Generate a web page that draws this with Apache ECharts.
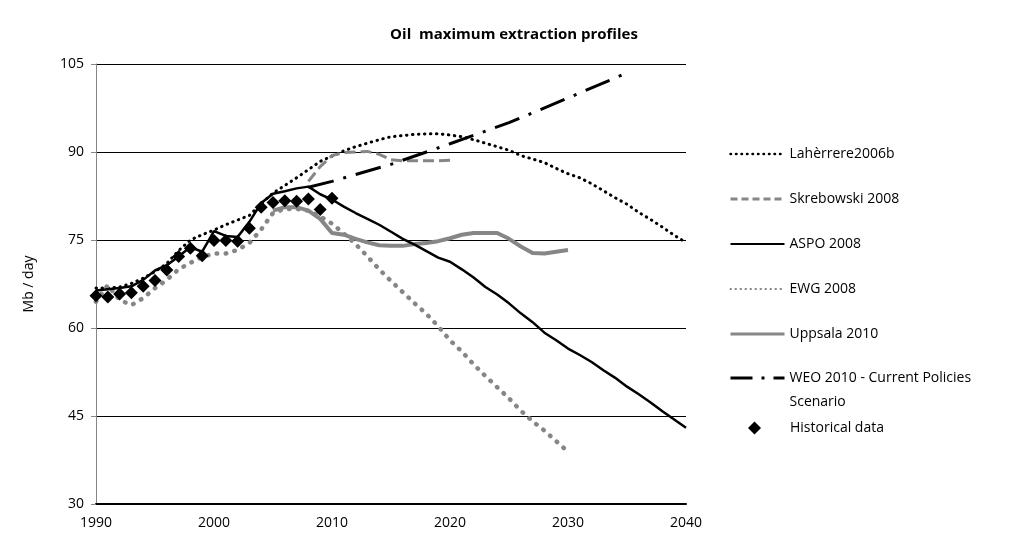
<!DOCTYPE html>
<html><head><meta charset="utf-8">
<script src="https://cdn.jsdelivr.net/npm/echarts@6/dist/echarts.min.js"></script>
<style>html,body{margin:0;padding:0;background:#fff}#c{width:1011px;height:546px}</style>
</head><body><div id="c"></div>
<script>
// ---- data (Mb/day) ----
const years = [1990,1991,1992,1993,1994,1995,1996,1997,1998,1999,
  2000,2001,2002,2003,2004,2005,2006,2007,2008,2009,
  2010,2011,2012,2013,2014,2015,2016,2017,2018,2019,
  2020,2021,2022,2023,2024,2025,2026,2027,2028,2029,
  2030,2031,2032,2033,2034,2035,2036,2037,2038,2039,2040];
const xTicks = [1990, 2000, 2010, 2020, 2030, 2040];
const yTicks = [30, 45, 60, 75, 90, 105];

const laherrereStart = 1990;
const laherrere = [66.8,66.8,67.0,67.6,68.5,69.6,71.0,73.2,75.0,75.9,
  76.7,77.6,78.4,79.2,81.2,83.0,84.3,85.6,87.0,88.4,
  89.3,90.2,90.9,91.5,92.1,92.6,92.8,93.0,93.1,93.1,
  92.9,92.6,92.1,91.5,90.9,90.3,89.4,88.8,88.2,87.2,
  86.3,85.6,84.6,83.4,82.2,81.1,79.7,78.5,77.2,75.8,74.6];

const skrebowskiStart = 2008;
const skrebowski = [85.0,87.5,89.4,89.9,90.0,90.1,89.6,88.7,88.5,88.5,88.5,88.5,88.6];

const aspoStart = 1990;
const aspo = [66.4,66.6,66.8,67.1,68.2,69.8,70.7,72.2,73.8,73.0,
  76.5,75.7,75.5,78.1,81.3,82.9,83.3,83.8,84.1,82.8,
  81.9,80.7,79.6,78.6,77.6,76.4,75.2,74.2,73.1,72.0,
  71.3,70.0,68.6,67.0,65.7,64.2,62.5,61.0,59.2,57.9,
  56.5,55.4,54.2,52.8,51.5,50.0,48.7,47.3,45.8,44.4,43.0];

const ewgStart = 1990;
const ewg = [64.5,67.3,64.8,63.9,65.1,66.8,68.2,70.0,71.1,72.1,
  72.7,72.7,73.3,74.5,76.8,79.6,80.3,80.3,80.0,79.0,
  77.8,76.1,74.3,72.2,70.0,68.0,66.1,64.2,62.4,60.3,
  57.9,56.0,53.8,51.8,49.9,48.0,45.9,44.1,42.5,40.7,38.9];

const uppsalaStart = 2005;
const uppsala = [80.0,80.6,80.6,80.0,78.6,76.2,75.9,75.2,74.6,74.1,
  74.0,74.0,74.3,74.5,74.8,75.3,75.9,76.2,76.2,76.2,
  75.2,73.9,72.8,72.7,73.0,73.3];

const weoYears = [2008, 2010, 2015, 2020, 2025, 2030, 2035];
const weo = [84.0, 85.0, 87.9, 91.4, 95.0, 99.2, 103.5];

const histStart = 1990;
const historical = [65.5,65.3,65.8,66.0,67.1,68.1,69.9,72.2,73.6,72.3,
  74.9,74.9,74.8,77.0,80.6,81.4,81.7,81.6,82.0,80.2,82.1];

const names = ['Lahèrrere2006b','Skrebowski 2008','ASPO 2008','EWG 2008','Uppsala 2010',
  'WEO 2010 - Current Policies Scenario','Historical data'];

// ---- build ----
function pairs(start, vals) {
  const i0 = years.indexOf(start);
  return vals.map((v, i) => [years[i0 + i], v]);
}
const FONT = 'Open Sans';
const legendText = {fontFamily: FONT, fontSize: 14, color: '#000', lineHeight: 14};
const chart = echarts.init(document.getElementById('c'), null, {renderer: 'canvas'});
chart.setOption({
  backgroundColor: '#ffffff',
  animation: false,
  title: {
    text: 'Oil  maximum extraction profiles',
    left: 509, top: 22, textAlign: 'center',
    textStyle: {fontFamily: FONT, fontWeight: 'bold', fontSize: 15, color: '#000'}
  },
  grid: {left: 96, right: 325, top: 64, bottom: 42},
  xAxis: {
    type: 'value', min: xTicks[0], max: xTicks[xTicks.length - 1], interval: 10,
    axisLine: {show: true, lineStyle: {color: '#000', width: 2}},
    axisTick: {show: false},
    splitLine: {show: false},
    axisLabel: {fontFamily: FONT, fontSize: 14, color: '#000', margin: 12, formatter: v => String(v)}
  },
  yAxis: {
    type: 'value', min: yTicks[0], max: yTicks[yTicks.length - 1], interval: 15,
    name: 'Mb / day', nameLocation: 'middle', nameGap: 60, nameRotate: 90,
    nameTextStyle: {fontFamily: FONT, fontSize: 14, color: '#000'},
    axisLine: {show: true, lineStyle: {color: '#868686', width: 1}},
    axisTick: {show: true, length: 5, lineStyle: {color: '#868686'}},
    splitLine: {show: true, lineStyle: {color: '#000', width: 1}},
    axisLabel: {fontFamily: FONT, fontSize: 14, color: '#000', margin: 12}
  },
  legend: [{
    orient: 'vertical', left: 724, top: 142,
    itemWidth: 54, itemHeight: 14, itemGap: 31,
    itemStyle: {opacity: 0},
    textStyle: legendText,
    data: [
      {name: names[0], lineStyle: {width: 2.5, type: [0.5, 5]}},
      {name: names[1], lineStyle: {width: 3, type: [7, 4]}},
      names[2],
      {name: names[3], lineStyle: {width: 2, type: [0.5, 4.5]}},
      {name: names[4], lineStyle: {width: 3}}
    ]
  }, {
    orient: 'vertical', left: 724, top: 337,
    itemWidth: 54, itemHeight: 14,
    itemStyle: {opacity: 0},
    textStyle: {fontFamily: FONT, fontSize: 14, color: '#000', lineHeight: 24},
    data: [{name: names[5], lineStyle: {width: 3, type: [22, 9, 3, 9]}}],
    formatter: n => '\nWEO 2010 - Current Policies\nScenario'
  }, {
    orient: 'vertical', left: 743, top: 416,
    itemWidth: 13, itemHeight: 13,
    itemStyle: {opacity: 1, color: '#000'},
    textStyle: Object.assign({}, legendText, {rich: {p: {width: 24}, t: legendText}}),
    data: [names[6]],
    formatter: n => '{p|}{t|' + n + '}'
  }],
  series: [
    {name: names[0], type: 'line', data: pairs(laherrereStart, laherrere), symbol: 'none', z: 3,
      lineStyle: {color: '#000', width: 3, type: [0.5, 5.5], cap: 'round'}, itemStyle: {color: '#000'}},
    {name: names[1], type: 'line', data: pairs(skrebowskiStart, skrebowski), symbol: 'none', z: 3,
      lineStyle: {color: '#868686', width: 3, type: [11, 5]}, itemStyle: {color: '#868686'}},
    {name: names[2], type: 'line', data: pairs(aspoStart, aspo), symbol: 'none', z: 4,
      lineStyle: {color: '#000', width: 2.5}, itemStyle: {color: '#000'}},
    {name: names[3], type: 'line', data: pairs(ewgStart, ewg), symbol: 'none', z: 3,
      lineStyle: {color: '#868686', width: 4.5, type: [0.5, 8.5], cap: 'round'}, itemStyle: {color: '#868686'}},
    {name: names[4], type: 'line', data: pairs(uppsalaStart, uppsala), symbol: 'none', z: 3,
      lineStyle: {color: '#868686', width: 4}, itemStyle: {color: '#868686'}},
    {name: names[5], type: 'line', data: weoYears.map((y, i) => [y, weo[i]]), symbol: 'none', z: 3,
      lineStyle: {color: '#000', width: 3, type: [26, 10, 3, 10]}, itemStyle: {color: '#000'}},
    {name: names[6], type: 'scatter', data: pairs(histStart, historical), symbol: 'diamond', symbolSize: 13, z: 5,
      itemStyle: {color: '#000', opacity: 1}}
  ]
});
</script></body></html>
